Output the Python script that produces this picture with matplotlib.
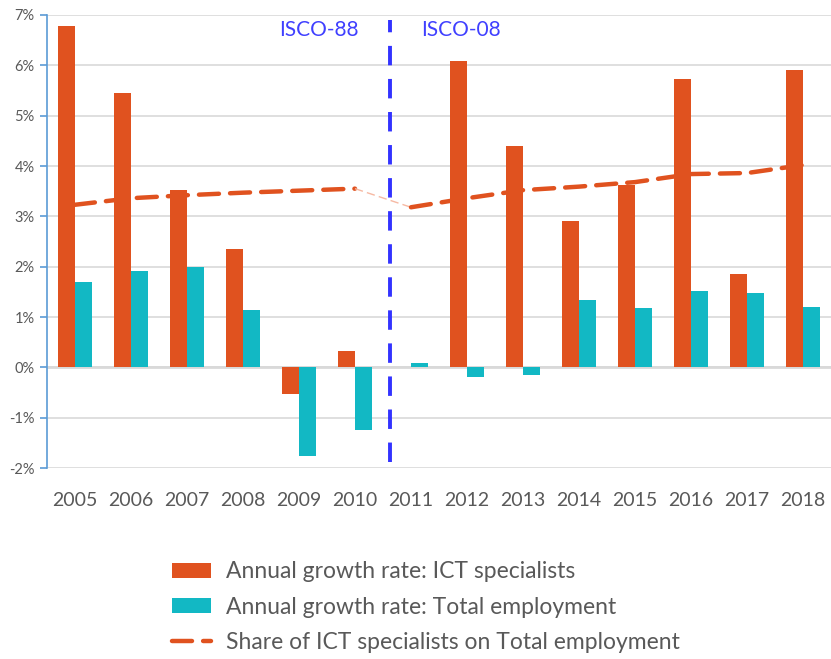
import numpy as np
import matplotlib.pyplot as plt
from matplotlib.ticker import FuncFormatter

years = ["2005", "2006", "2007", "2008", "2009", "2010", "2011",
         "2012", "2013", "2014", "2015", "2016", "2017", "2018"]
ict_growth = [6.79, 5.45, 3.52, 2.35, -0.52, 0.32, 0.0,
              6.08, 4.40, 2.91, 3.62, 5.72, 1.86, 5.90]
total_growth = [1.70, 1.91, 1.99, 1.13, -1.77, -1.24, 0.08,
                -0.19, -0.15, 1.33, 1.17, 1.52, 1.48, 1.20]
ict_share = [3.23, 3.36, 3.42, 3.47, 3.51, 3.55, 3.18,
             3.36, 3.52, 3.59, 3.68, 3.84, 3.86, 4.02]

orange = "#E0521F"
teal = "#12B8C4"
blue = "#3333FF"
grey = "#595959"

plt.rcParams['font.family'] = ['Lato', 'DejaVu Sans']

fig = plt.figure(figsize=(8.31, 6.59), dpi=100)
ax = fig.add_axes([47 / 831, 1 - 468 / 659, 1 - 47 / 831, (468 - 15) / 659])

x = np.arange(len(years))
w = 0.295
ax.bar(x - w / 2, ict_growth, w, color=orange, linewidth=0,
       label="Annual growth rate: ICT specialists", zorder=3)
ax.bar(x + w / 2, total_growth, w, color=teal, linewidth=0,
       label="Annual growth rate: Total employment", zorder=3)

# share line; the step between the two classifications is drawn faint
share = np.array(ict_share)
ax.plot(x[:6], share[:6], color=orange, lw=3.2, ls=(0, (4.5, 2.5)),
        dash_capstyle="round", zorder=4,
        label="Share of ICT specialists on Total employment")
ax.plot(x[5:7], share[5:7], color="#F6B9A3", lw=1.0, ls=(0, (6, 3)), zorder=4)
ax.plot(x[6:], share[6:], color=orange, lw=3.2, ls=(0, (4.5, 2.5)),
        dash_capstyle="round", zorder=4)

# classification break
ax.plot([5.63, 5.63], [-1.88, 6.9], color=blue, lw=2.8, ls=(0, (5, 3.5)), zorder=5)
ax.text(4.35, 6.7, "ISCO-88", color="#4040FF", fontsize=15, ha="center", va="center")
ax.text(6.9, 6.7, "ISCO-08", color="#4040FF", fontsize=15, ha="center", va="center")

ax.set_xlim(-0.5, len(years) - 0.5)
ax.set_ylim(-2, 7)
ax.set_yticks(range(-2, 8))
ax.yaxis.set_major_formatter(FuncFormatter(lambda v, p: f"{int(v)}%"))
ax.set_xticks(x)
ax.set_xticklabels(years)
ax.grid(axis="y", color="#D9D9D9", lw=1.2, zorder=0)
ax.axhline(0, color="#D9D9D9", lw=2, zorder=1)

for s in ["top", "right", "bottom"]:
    ax.spines[s].set_visible(False)
ax.spines["left"].set_color("#5B9BD5")
ax.spines["left"].set_linewidth(1.2)
ax.tick_params(axis="y", colors="#5B9BD5", labelcolor=grey, labelsize=10.5,
               length=5, width=1.2, pad=4)
ax.tick_params(axis="x", length=0, labelcolor=grey, labelsize=14, pad=17)

handles, labels = ax.get_legend_handles_labels()
order = [1, 2, 0]
leg = fig.legend([handles[i] for i in order], [labels[i] for i in order],
                 loc="upper left", bbox_to_anchor=(161 / 831, 1 - 550 / 659),
                 frameon=False, fontsize=16.5, labelcolor=grey,
                 handlelength=1.7, handleheight=0.65, handletextpad=0.65,
                 labelspacing=0.62, borderpad=0)

fig.savefig("out.png", dpi=100)
